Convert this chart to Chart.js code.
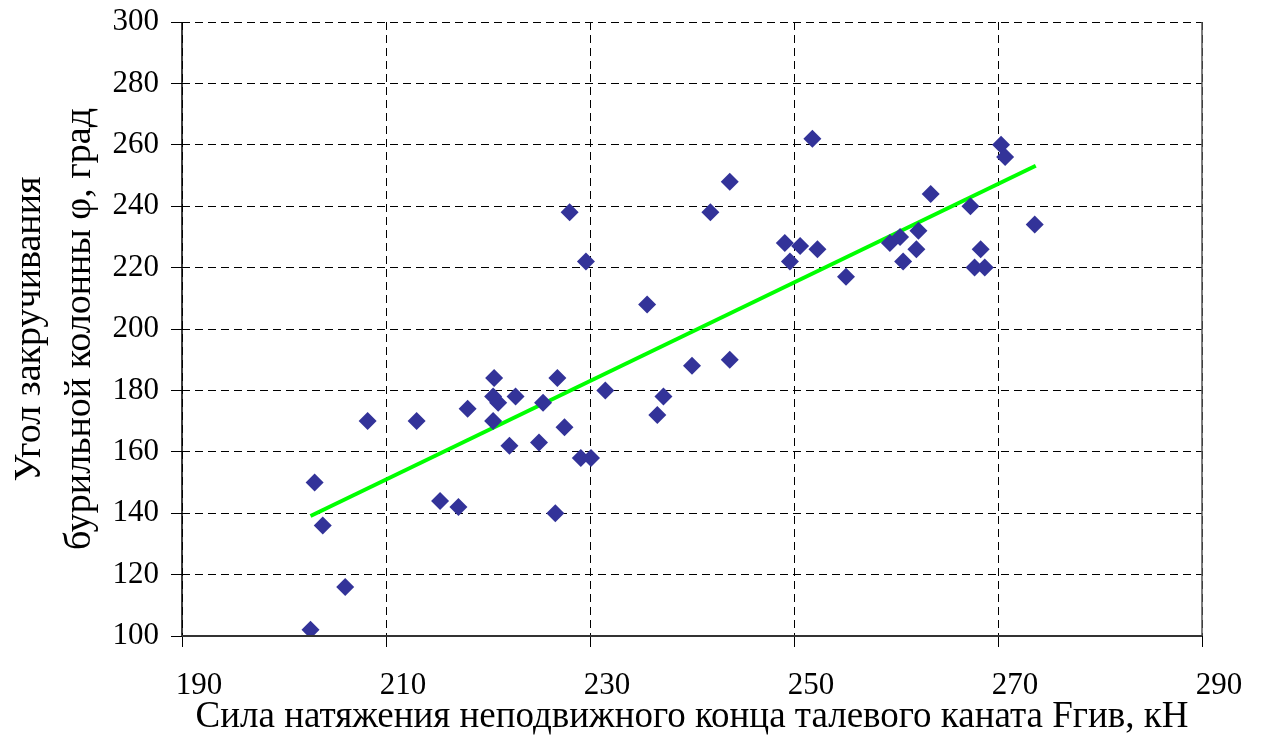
<!DOCTYPE html>
<html>
<head>
<meta charset="utf-8">
<script src="https://cdn.jsdelivr.net/npm/chart.js@4/dist/chart.umd.min.js"></script>
<style>
  html, body { margin: 0; padding: 0; background: #fff; }
  canvas { display: block; }
</style>
</head>
<body>
<canvas id="chart" width="1263" height="736"></canvas>
<script>
// measured points: tension force (kN) vs twist angle (deg)
const forceKN = [
  202.6, 203.0, 203.8, 206.0, 208.2, 213.0, 215.3, 217.1, 218.0, 220.5,
  221.0, 220.6, 220.5, 222.1, 222.7, 225.0, 225.4, 226.6, 226.8, 227.5,
  228.0, 229.1, 229.6, 230.1, 231.5, 235.6, 236.6, 237.2, 240.0, 241.8,
  243.7, 243.7, 249.1, 249.6, 250.6, 251.8, 252.3, 255.1, 259.4, 260.4,
  260.7, 262.0, 262.2, 263.4, 267.3, 267.7, 268.3, 268.7, 270.3, 270.7,
  273.6
];
const angleDeg = [
  102, 150, 136, 116, 170, 170, 144, 142, 174, 178,
  176, 184, 170, 162, 178, 163, 176, 140, 184, 168,
  238, 158, 222, 158, 180, 208, 172, 178, 188, 238,
  248, 190, 228, 222, 227, 262, 226, 217, 228, 230,
  222, 226, 232, 244, 240, 220, 226, 220, 260, 256,
  234
];

// trend line ends
const trendX = [202.6, 273.7];
const trendY = [139.1, 253.2];

const xTicks = [190, 210, 230, 250, 270, 290];
const yTicks = [100, 120, 140, 160, 180, 200, 220, 240, 260, 280, 300];

const xTitle = 'Сила натяжения неподвижного конца талевого каната Fгив, кН';
const yTitle = ['Угол закручивания', 'бурильной колонны φ, град'];

const serif = '"Liberation Serif", "Times New Roman", serif';

// solid frame: left/bottom black, right grey (grid lines stay dashed)
const frame = {
  id: 'frame',
  afterDatasetsDraw(chart) {
    const { ctx, chartArea: a } = chart;
    ctx.save();
    ctx.lineWidth = 1.5;
    ctx.strokeStyle = '#555';
    ctx.beginPath();
    ctx.moveTo(a.right, a.top);
    ctx.lineTo(a.right, a.bottom);
    ctx.stroke();
    ctx.strokeStyle = '#000';
    ctx.beginPath();
    ctx.moveTo(a.left, a.top);
    ctx.lineTo(a.left, a.bottom);
    ctx.stroke();
    ctx.strokeStyle = '#333';
    ctx.lineWidth = 2;
    ctx.beginPath();
    ctx.moveTo(a.left, a.bottom);
    ctx.lineTo(a.right, a.bottom);
    ctx.stroke();
    ctx.restore();
  }
};

const gridOpts = {
  color: '#000',
  lineWidth: 1,
  tickLength: 11,
  tickColor: '#000',
  tickBorderDash: []
};

const ctx = document.getElementById('chart').getContext('2d');
new Chart(ctx, {
  type: 'scatter',
  data: {
    datasets: [
      {
        label: 'trend',
        data: trendX.map((x, i) => ({ x, y: trendY[i] })),
        showLine: true,
        borderColor: '#00ff00',
        borderWidth: 4,
        pointRadius: 0,
        order: 2
      },
      {
        label: 'points',
        data: forceKN.map((x, i) => ({ x, y: angleDeg[i] })),
        pointStyle: 'rectRot',
        pointRadius: 9,
        backgroundColor: '#333399',
        borderColor: '#333399',
        borderWidth: 0,
        order: 1
      }
    ]
  },
  options: {
    responsive: false,
    animation: false,
    devicePixelRatio: 1,
    layout: { padding: { top: 22, right: 61, left: 5, bottom: 0 } },
    plugins: { legend: { display: false }, tooltip: { enabled: false } },
    scales: {
      x: {
        type: 'linear',
        min: 190,
        max: 290,
        afterBuildTicks: (scale) => { scale.ticks = xTicks.map(v => ({ value: v })); },
        afterFit: (scale) => {
          scale.height = 100;
          scale.paddingLeft = 0;
          scale.paddingRight = 0;
        },
        ticks: {
          font: { family: serif, size: 31 },
          color: '#000',
          padding: 20,
          labelOffset: 17,
          maxRotation: 0
        },
        grid: gridOpts,
        border: { display: false, dash: [8, 5] },
        title: {
          display: true,
          text: xTitle,
          font: { family: serif, size: 37, lineHeight: 1.0 },
          color: '#000',
          padding: { top: 0, bottom: 0 }
        }
      },
      y: {
        type: 'linear',
        min: 100,
        max: 300,
        afterBuildTicks: (scale) => { scale.ticks = yTicks.map(v => ({ value: v })); },
        afterFit: (scale) => {
          scale.width = 177;
          scale.paddingTop = 0;
          scale.paddingBottom = 0;
        },
        ticks: {
          font: { family: serif, size: 31 },
          color: '#000',
          padding: 12
        },
        grid: gridOpts,
        border: { display: false, dash: [8, 5] },
        title: {
          display: true,
          text: yTitle,
          font: { family: serif, size: 38, lineHeight: 1.32 },
          color: '#000',
          padding: { top: 0, bottom: 0 }
        }
      }
    }
  },
  plugins: [frame]
});
</script>
</body>
</html>
